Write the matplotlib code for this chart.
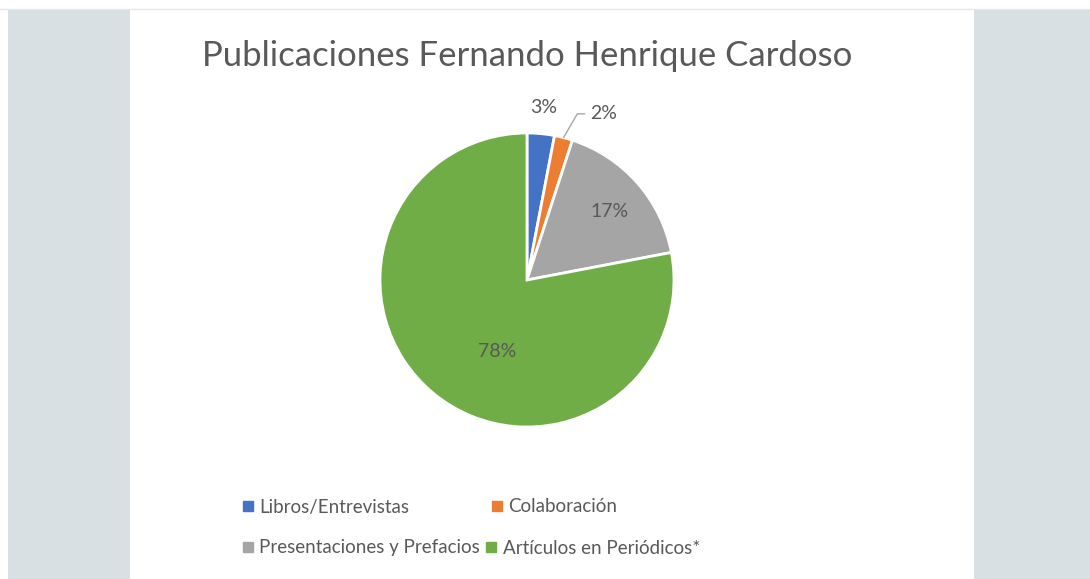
import matplotlib
matplotlib.use("Agg")
import matplotlib.pyplot as plt
import numpy as np
from matplotlib.patches import Rectangle
from matplotlib.lines import Line2D

title = "Publicaciones Fernando Henrique Cardoso"
categories = ["Libros/Entrevistas", "Colaboración",
              "Presentaciones y Prefacios", "Artículos en Periódicos*"]
shares = [3, 2, 17, 78]
colors = ["#4472C4", "#ED7D31", "#A5A5A5", "#70AD47"]

TXT = "#595959"
W, H = 1090, 579
plt.rcParams["font.family"] = ["Lato", "DejaVu Sans"]

fig = plt.figure(figsize=(W / 100, H / 100), dpi=100)
fig.patch.set_facecolor("white")
# grey side panels and the thin line under the top strip
fig.patches.append(Rectangle((8 / W, 0), 122 / W, 570 / H, transform=fig.transFigure,
                             facecolor="#d9e0e3", edgecolor="none"))
fig.patches.append(Rectangle((974 / W, 0), 116 / W, 570 / H, transform=fig.transFigure,
                             facecolor="#d9e0e3", edgecolor="none"))
fig.add_artist(Line2D([0, 1], [570 / H, 570 / H], transform=fig.transFigure,
                      color="#e6e6e6", lw=1))

fig.text(527 / W, (H - 56) / H, title, ha="center", va="center",
         fontsize=25, color=TXT)

cx, cy, r = 527, 280, 147
ax = fig.add_axes([(cx - r) / W, (H - cy - r) / H, 2 * r / W, 2 * r / H])
wedges, _, autotexts = ax.pie(shares, colors=colors, startangle=90, counterclock=False,
                              autopct=lambda p: f"{p:.0f}%", pctdistance=0.7,
                              wedgeprops=dict(edgecolor="white", linewidth=2),
                              textprops=dict(color=TXT, fontsize=14))
ax.set_xlim(-1, 1)
ax.set_ylim(-1, 1)
ax.set_aspect("equal")


def place(t, ang, dist):
    a = np.deg2rad(ang)
    t.set_position((dist * np.cos(a), dist * np.sin(a)))


mids = [(w.theta1 + w.theta2) / 2 for w in wedges]
place(autotexts[0], mids[0], 1.18)
place(autotexts[2], mids[2] - 2, 0.73)
place(autotexts[3], mids[3] + 17, 0.53)
# orange label sits off to the side with a leader line
a = np.deg2rad(mids[1])
autotexts[1].set_visible(False)
ax.annotate(autotexts[1].get_text(), xy=(1.0 * np.cos(a), 1.0 * np.sin(a)),
            xytext=(0.43, 1.13), ha="left", va="center", fontsize=14, color=TXT,
            arrowprops=dict(arrowstyle="-", color="#a6a6a6", lw=1,
                            connectionstyle="angle,angleA=0,angleB=60,rad=0",
                            shrinkA=2, shrinkB=0))

# legend laid out row by row, like the original
rows = [([0, 1], 507, 4.35), ([2, 3], 548, 0.3)]
for idx, y, gap in rows:
    handles = [Line2D([], [], marker="s", ls="none", markersize=7, color=colors[i])
               for i in idx]
    fig.legend(handles, [categories[i] for i in idx], ncol=2, frameon=False,
               loc="center left", bbox_to_anchor=(235 / W, (H - y) / H),
               fontsize=13.5, labelcolor=TXT, handlelength=0.6, handletextpad=0.3,
               columnspacing=gap, borderaxespad=0)

fig.savefig("out.png", dpi=100, facecolor=fig.get_facecolor())
